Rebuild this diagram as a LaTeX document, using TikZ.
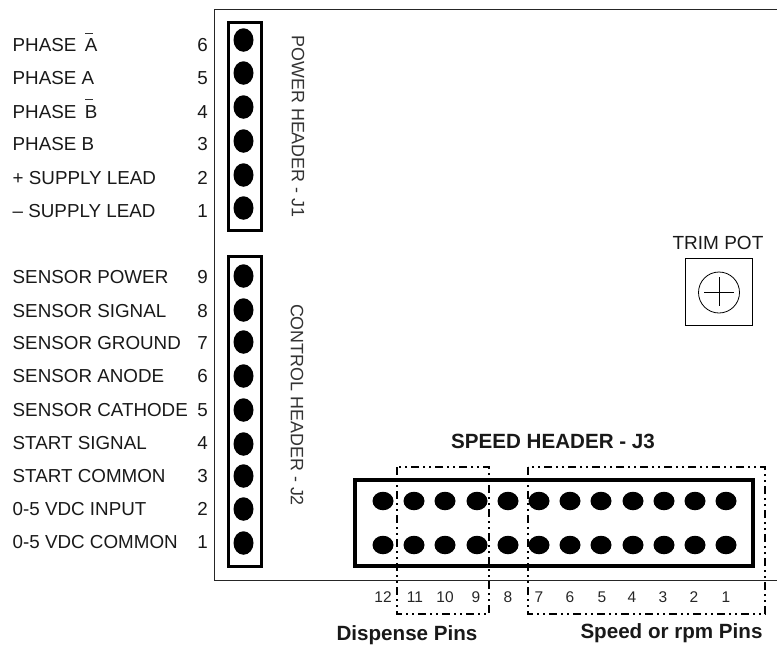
\documentclass[tikz,border=0pt]{standalone}
\usepackage{fontspec}
\setmainfont{Liberation Sans}
\usetikzlibrary{shapes.geometric}
\tikzset{
 px/.style={x=1pt,y=-1pt},
 lab/.style={anchor=west,inner sep=0pt,font=\fontsize{18.8}{20}\selectfont,text=black!90},
 num/.style={anchor=center,inner sep=0pt,font=\fontsize{18.8}{20}\selectfont,text=black!90},
 pinv/.style={draw=none,fill=black,ellipse,minimum width=20pt,minimum height=23.5pt,inner sep=0pt},
 pinh/.style={draw=none,fill=black,ellipse,minimum width=21pt,minimum height=18.5pt,inner sep=0pt},
 hdr/.style={draw=black,line width=3pt},
 sm/.style={anchor=center,inner sep=0pt,font=\fontsize{15.5}{17}\selectfont,text=black!85},
 bold/.style={anchor=center,inner sep=0pt,font=\bfseries\fontsize{20.6}{22}\selectfont,text=black!90},
 grp/.style={draw=black,line width=1.6pt,dash pattern=on 8pt off 4pt on 2pt off 4pt on 2pt off 4pt},
 rot/.style={anchor=center,inner sep=0pt,rotate=-90,font=\fontsize{17.9}{20}\selectfont,text=black!80},
}
\begin{document}
\begin{tikzpicture}[px]
\useasboundingbox (0,0) rectangle (777,646);
\draw[line width=1pt,black!85] (777,580) -- (214,580) -- (214,9) -- (777,9);
\draw[hdr] (228,22.5) rectangle (261,230.5);
\foreach \i/\y/\ly in {6/40/45,5/73/78,4/107/112,3/141/144,2/175/178,1/208/211}{
 \node[pinv] (p\i) at (243.5,\y) {};
 \node[num] (n\i) at (202.5,\ly) {\i};
}
\node[lab] (a6) at (12.5,45) {PHASE\hspace{8.5pt}A};
\node[lab] (a5) at (12.5,78) {PHASE A};
\node[lab] (a4) at (12.5,112) {PHASE\hspace{8.5pt}B};
\node[lab] (a3) at (12.5,144) {PHASE B};
\node[lab] (a2) at (12.5,178) {+ SUPPLY LEAD};
\node[lab] (a1) at (12.5,211) {– SUPPLY LEAD};
\draw[line width=0.6pt,black!80] (85,33) -- (93,33) (85,99) -- (93,99);
\node[rot] (j1) at (298,126.5) {POWER HEADER - J1};
\draw[hdr] (228,256.5) rectangle (261,566.5);
\foreach \i/\y/\ly/\t in {9/276/277/SENSOR POWER,8/310/311/SENSOR SIGNAL,7/342/343/SENSOR GROUND,6/376/376/SENSOR ANODE,5/410/410/SENSOR CATHODE,4/444/443/START SIGNAL,3/476/476/START COMMON,2/509/509/0-5 VDC INPUT,1/543/542/0-5 VDC COMMON}{
 \node[pinv] (q\i) at (243.5,\y) {};
 \node[num] (m\i) at (202.5,\ly) {\i};
 \node[lab] (b\i) at (12.5,\ly) {\t};
}
\node[rot] (j2) at (297,405) {CONTROL HEADER - J2};
\node[anchor=center,inner sep=0pt,font=\fontsize{19}{20}\selectfont,text=black!90] (tp) at (718,243) {TRIM POT};
\node[draw=black,line width=0.8pt,minimum size=67pt,inner sep=0pt] (pot) at (718.5,292) {};
\node[circle,draw=black,line width=0.8pt,minimum size=41pt,inner sep=0pt] (potc) at (719,292.5) {};
\coordinate (cw) at (704,292.5);
\coordinate (ce) at (733.5,292.5);
\coordinate (cn) at (719,277);
\coordinate (cs) at (719,306);
\draw[line width=0.8pt] (cw) -- (ce) (cn) -- (cs);
\node[bold] (j3) at (553,441) {SPEED HEADER - J3};
\draw[hdr,line width=3.6pt] (355,480) rectangle (753,566);
\foreach \x/\i in {383/12,414/11,445/10,477/9,508/8,539/7,570/6,601/5,633/4,664/3,695/2,726/1}{
 \node[pinh] (u\i) at (\x,501) {};
 \node[pinh] (v\i) at (\x,545) {};
}
\foreach \x/\i in {383/12,415/11,445/10,476/9,508/8,539/7,570/6,602/5,632/4,663/3,694/2,726/1}{
 \node[sm] (c\i) at (\x,597) {\i};
}
\draw[grp] (397,467) rectangle (489,614);
\draw[grp] (528,467) rectangle (765,614);
\node[bold] (dp) at (407,635) {Dispense Pins};
\node[bold] (sp) at (671.5,633) {Speed or rpm Pins};
\end{tikzpicture}
\end{document}
